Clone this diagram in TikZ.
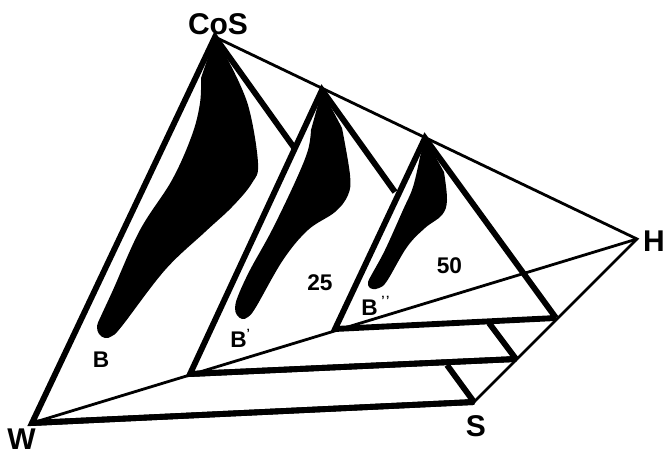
\documentclass[tikz,border=0pt]{standalone}
\usepackage{fontspec}
\setmainfont{Liberation Sans}
\tikzset{
  facet/.style={draw=black, line width=4.4pt, line join=miter},
  basefacet/.style={draw=black, line width=4.4pt, line join=bevel},
  edgeline/.style={draw=black, line width=2.1pt, line join=miter},
  basefield/.style={fill=black},
  cornerlabel/.style={font=\fontsize{22.5}{23}\selectfont\bfseries, inner sep=0pt},
  fieldlabel/.style={font=\fontsize{17}{17}\selectfont\bfseries, inner sep=0pt}
}
\begin{document}
\begin{tikzpicture}[x=0.75pt, y=-0.75pt]
\useasboundingbox (0,0) rectangle (665,454);
% corners of the tetrahedron
\coordinate (cos) at (215,37);
\coordinate (w) at (32,423);
\coordinate (s) at (474,402);
\coordinate (h) at (637,239);
% section at 25
\coordinate (apexa) at (322,90);
\coordinate (lefta) at (190,374);
\coordinate (righta) at (516,359);
% section at 50
\coordinate (apexb) at (425,138);
\coordinate (leftb) at (335,329);
\coordinate (rightb) at (556,318);
% where the hidden edges stop
\coordinate (stopo) at (295,149);
\coordinate (stopa) at (395,192);
\coordinate (stubo) at (447,365);
\coordinate (stuba) at (489,323);

\draw[edgeline] (cos) -- (h) -- (s);
\draw[edgeline] (w) -- (h);

\draw[facet] (stopo) -- (cos) -- (w) -- (s);
\draw[basefacet] (w) -- (s) -- (stubo);
\draw[facet] (stopa) -- (apexa) -- (lefta) -- (righta);
\draw[basefacet] (lefta) -- (righta) -- (stuba);
\draw[facet] (rightb) -- (apexb) -- (leftb) -- (rightb);

\fill[basefield] (cos) -- plot[smooth, tension=0.6] coordinates {(201,78) (200,103) (192,135) (172,180) (140,230) (113,290) (101,316) (97,326) (99,334) (105,338) (112,336) (122,326) (165,270) (205,232) (232,207) (252,183) (258,163) (248,105) (228,60)} -- cycle;
\fill[basefield] (apexa) -- plot[smooth, tension=0.6] coordinates {(311,130) (308,150) (296,180) (272,230) (250,270) (238,296) (235,308) (237,315) (242,319) (248,317) (256,307) (283,260) (308,230) (335,212) (348,195) (350,175) (342,128)} -- cycle;
\fill[basefield] (apexb) -- plot[smooth, tension=0.6] coordinates {(420,157) (413,187) (403,210) (385,250) (372,274) (368,282) (369,287) (373,289) (379,288) (387,281) (407,247) (425,228) (442,215) (447,200) (444,172)} -- cycle;

\node[cornerlabel] (coslabel) at (218,24) {CoS};
\node[cornerlabel] (wlabel) at (21.5,439) {W};
\node[cornerlabel] (slabel) at (476,426) {S};
\node[cornerlabel] (hlabel) at (654,241) {H};
\node[fieldlabel] (blabel) at (101,360) {B};
\node[fieldlabel, anchor=base west] (bplabel) at (230,347) {B\raisebox{0.42em}{\small'}};
\node[fieldlabel, anchor=base west] (bpplabel) at (361,315) {B\,\raisebox{0.45em}{\small'\hspace{1pt}'}};
\node[fieldlabel] (alabel) at (320,283) {25};
\node[fieldlabel] (clabel) at (449.5,266) {50};
\end{tikzpicture}
\end{document}
